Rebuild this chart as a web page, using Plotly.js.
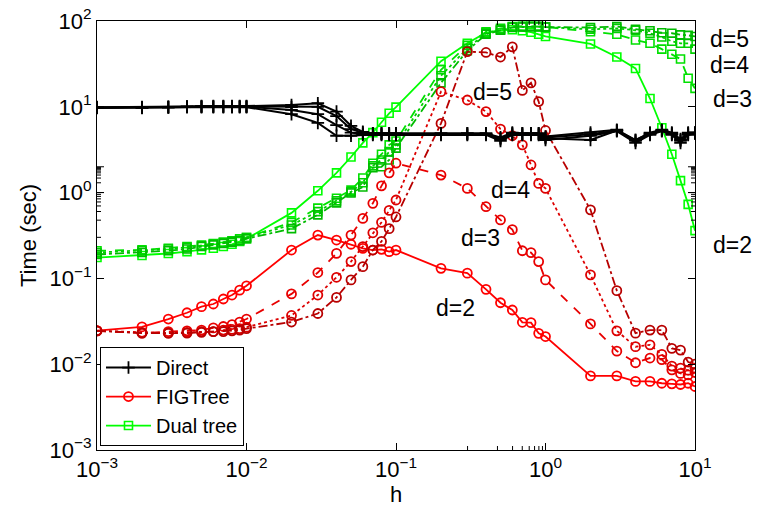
<!DOCTYPE html>
<html>
<head>
<meta charset="utf-8">
<script src="https://cdn.plot.ly/plotly-3.0.1.min.js"></script>
<style>html,body{margin:0;padding:0;background:#fff}#chart{width:762px;height:517px}</style>
</head>
<body>
<div id="chart"></div>
<script>
const hValues = [0.001,0.002,0.003,0.004,0.005,0.006,0.007,0.008,0.009,0.01,
  0.02,0.03,0.04,0.05,0.06,0.07,0.08,0.09,0.1,
  0.2,0.3,0.4,0.5,0.6,0.7,0.8,0.9,1,
  2,3,4,5,6,7,8,9,10];

const directD2 = [9.7,9.7,9.8,9.9,9.9,9.9,9.9,9.9,9.9,9.9, 8.2,6.5,4.6,4.6,4.7,4.7,4.7,4.7,4.7, 4.7,4.7,4.7,4.0,4.7,4.7,4.7,4.7,4.1, 4.6,5.2,3.8,4.7,5.2,4.7,3.8,4.7,4.9];
const directD3 = [9.8,9.8,9.9,10,10,10,10,10,10,10, 9.2,8.2,6.1,5.0,4.8,4.8,4.8,4.8,4.8, 4.8,4.8,4.8,4.2,4.8,4.8,4.8,4.8,4.3, 4.1,5.3,4.0,4.8,5.3,4.8,4.0,4.8,4.9];
const directD4 = [9.8,9.8,9.9,10,10.1,10.1,10.1,10.1,10.1,10.1, 9.9,10,7.8,5.5,5.0,4.9,4.9,4.9,4.9, 4.9,4.9,4.9,4.3,4.9,4.9,4.9,4.9,4.4, 4.8,5.3,4.1,4.9,5.3,4.9,4.1,4.9,5.0];
const directD5 = [9.9,9.9,10,10.1,10.2,10.2,10.2,10.2,10.2,10.2, 10.5,11,8.8,6.0,5.1,4.9,4.9,4.9,4.9, 4.9,4.9,4.9,4.4,5.0,4.9,4.9,4.9,4.5, 5.0,5.4,4.1,5.0,5.4,5.0,4.2,5.0,5.0];

const figD2 = [0.0246,0.0273,0.0336,0.0398,0.0468,0.0503,0.0575,0.064,0.073,0.082, 0.214,0.32,0.28,0.25,0.224,0.214,0.218,0.205,0.214, 0.131,0.115,0.0746,0.052,0.0428,0.0308,0.0305,0.0229,0.021, 0.0073,0.0073,0.0063,0.0063,0.006,0.0059,0.0058,0.006,0.0055];
const figD3 = [0.0245,0.023,0.024,0.0245,0.025,0.0265,0.0275,0.029,0.031,0.0336, 0.066,0.117,0.196,0.32,0.5,0.75,1.2,1.7,2.2, 1.6,1.12,0.685,0.48,0.37,0.21,0.2,0.157,0.096, 0.0295,0.0142,0.0104,0.0118,0.0113,0.0086,0.0078,0.0075,0.008];
const figD4 = [0.0245,0.0235,0.023,0.0235,0.024,0.024,0.025,0.0255,0.026,0.027, 0.037,0.064,0.103,0.157,0.235,0.34,0.45,0.62,0.82, 15,12,8.8,5.5,4.6,3.6,2.1,1.28,1.12, 0.11,0.0245,0.016,0.0168,0.013,0.0095,0.009,0.0085,0.009];
const figD5 = [0.0245,0.023,0.023,0.023,0.0235,0.024,0.024,0.0245,0.025,0.026, 0.031,0.039,0.06,0.096,0.137,0.214,0.27,0.38,0.52, 6.4,44,43,38,50,15.5,19,11.5,5.3, 0.63,0.072,0.023,0.025,0.025,0.0153,0.0146,0.0106,0.0100];

const dualD2 = [0.175,0.185,0.195,0.205,0.215,0.225,0.235,0.25,0.27,0.29, 0.58,1.05,1.7,2.6,3.8,5.0,6.6,8.4,9.9, 34,55,73,78,79,77,74,70,66, 54,38,28,12.5,5.7,2.8,1.38,0.73,0.36];
const dualD3 = [0.21,0.215,0.225,0.235,0.245,0.255,0.265,0.275,0.29,0.3, 0.45,0.66,0.86,1.07,1.48,2.2,2.8,3.6,4.0, 27,52,75,82,86,87,87,86,85, 75,70,60,55,47,41,36,21.5,16.4];
const dualD4 = [0.2,0.21,0.22,0.23,0.24,0.25,0.26,0.27,0.28,0.3, 0.42,0.6,0.8,1.02,1.3,2.05,2.4,3.0,3.6, 23,48,72,80,85,86,86,86,85, 80,82,78,72,65,58,55,55,47];
const dualD5 = [0.19,0.2,0.21,0.22,0.235,0.245,0.255,0.265,0.275,0.29, 0.38,0.55,0.76,0.99,1.16,1.95,2.0,2.4,3.3, 19,45,70,78,84,85,86,86,85, 84,86,80,77,73,72,69,68,66];

const legendNames = ["Direct","FIGTree","Dual tree"];
const dLabels = ["d=2","d=3","d=4","d=5"];
const xTickVals = [0.001,0.01,0.1,1,10];
const xTickLabels = ["10<sup>\u22123</sup>","10<sup>\u22122</sup>","10<sup>\u22121</sup>","10<sup>0</sup>","10<sup>1</sup>"];
const yTickVals = [0.001,0.01,0.1,1,10,100];
const yTickLabels = ["10<sup>\u22123</sup>","10<sup>\u22122</sup>","10<sup>\u22121</sup>","10<sup>0</sup>","10<sup>1</sup>","10<sup>2</sup>"];

const dashes = ["solid","dash","dot","dashdot"];
const redShades = ["#ff0000","#e80000","#dd0000","#b80000"];
const greenShades = ["#00ff00","#00e000","#00d000","#00bb00"];

// tick-mark positions (2..9 within each decade) for the axis frame
function minorTicks(lo, hi){
  const out=[];
  for(let e=lo;e<hi;e++){for(let k=2;k<=9;k++){out.push(k*Math.pow(10,e));}}
  return out;
}

const traces = [];
const dual = [dualD2,dualD3,dualD4,dualD5];
const fig = [figD2,figD3,figD4,figD5];
const direct = [directD2,directD3,directD4,directD5];

dual.forEach((ys,i)=>traces.push({x:hValues,y:ys,type:'scatter',mode:'lines+markers',
  name:legendNames[2],legendgroup:'dual',showlegend:i===0,legendrank:3,
  line:{color:greenShades[i],width:1.8,dash:dashes[i]},
  marker:{symbol:'square-open',size:8,color:greenShades[i],line:{width:1.6,color:greenShades[i]}}}));
fig.forEach((ys,i)=>traces.push({x:hValues,y:ys,type:'scatter',mode:'lines+markers',
  name:legendNames[1],legendgroup:'fig',showlegend:i===0,legendrank:2,
  line:{color:redShades[i],width:1.8,dash:dashes[i]},
  marker:{symbol:'circle-open',size:9,color:redShades[i],line:{width:1.8,color:redShades[i]}}}));
direct.forEach((ys,i)=>traces.push({x:hValues,y:ys,type:'scatter',mode:'lines+markers',
  name:legendNames[0],legendgroup:'direct',showlegend:i===0,legendrank:1,
  line:{color:'#000000',width:2},
  marker:{symbol:'cross-thin',size:9,color:'#000000',line:{width:1.8,color:'#000000'}}}));

const fontFam = 'Liberation Sans, Arial, Helvetica, sans-serif';
const annFont = {family:fontFam,size:23,color:'#000'};
const annotations = [
  {xref:'paper',yref:'paper',x:0.662,y:0.834,text:dLabels[3]},
  {xref:'paper',yref:'paper',x:0.691,y:0.606,text:dLabels[2]},
  {xref:'paper',yref:'paper',x:0.642,y:0.494,text:dLabels[1]},
  {xref:'paper',yref:'paper',x:0.599,y:0.331,text:dLabels[0]},
  {xref:'paper',yref:'paper',x:1.057,y:0.958,text:dLabels[3]},
  {xref:'paper',yref:'paper',x:1.057,y:0.898,text:dLabels[2]},
  {xref:'paper',yref:'paper',x:1.062,y:0.818,text:dLabels[1]},
  {xref:'paper',yref:'paper',x:1.062,y:0.478,text:dLabels[0]}
].map(a=>Object.assign(a,{showarrow:false,font:annFont,xanchor:'center',yanchor:'middle',borderpad:0}));

// axis frame tick marks drawn as short line shapes (inside, on all four sides)
const plotW = 762-97-67, plotH = 517-21-67;
const shapes = [];
function addXTicks(vals,len){
  const f = len/plotH;
  vals.forEach(v=>{
    const lx = Math.log10(v);
    shapes.push({type:'line',xref:'x',yref:'paper',x0:lx,x1:lx,y0:0,y1:f,line:{color:'#000',width:1}});
    shapes.push({type:'line',xref:'x',yref:'paper',x0:lx,x1:lx,y0:1,y1:1-f,line:{color:'#000',width:1}});
  });
}
function addYTicks(vals,len){
  const f = len/plotW;
  vals.forEach(v=>{
    const ly = Math.log10(v);
    shapes.push({type:'line',xref:'paper',yref:'y',y0:ly,y1:ly,x0:0,x1:f,line:{color:'#000',width:1}});
    shapes.push({type:'line',xref:'paper',yref:'y',y0:ly,y1:ly,x0:1,x1:1-f,line:{color:'#000',width:1}});
  });
}
addXTicks(minorTicks(-3,1),4);
addYTicks(minorTicks(-3,2),4);
addXTicks(xTickVals,7);
addYTicks(yTickVals,7);

const axisCommon = {type:'log',tickmode:'array',showline:true,linecolor:'#000',linewidth:1,
  mirror:'allticks',ticks:'inside',ticklen:7,tickcolor:'#000',showgrid:false,zeroline:false,
  tickfont:{family:fontFam,size:22,color:'#000'}};

const layout = {
  width:762,height:517,
  margin:{l:97,r:67,t:21,b:67},
  paper_bgcolor:'#fff',plot_bgcolor:'#fff',
  showlegend:true,
  legend:{x:0.005,y:0.24,xanchor:'left',yanchor:'top',bgcolor:'#fff',bordercolor:'#000',borderwidth:1,
    font:{family:fontFam,size:20,color:'#000'},tracegroupgap:0,traceorder:'normal',itemwidth:45},
  xaxis:Object.assign({},axisCommon,{range:[-3,1],tickvals:xTickVals,ticktext:xTickLabels,
    title:{text:'h',font:{family:fontFam,size:22,color:'#000'},standoff:2}}),
  yaxis:Object.assign({},axisCommon,{range:[-3,2],tickvals:yTickVals,ticktext:yTickLabels,
    title:{text:'Time (sec)',font:{family:fontFam,size:22,color:'#000'},standoff:6}}),
  shapes:shapes,
  annotations:annotations
};

Plotly.newPlot('chart',traces,layout,{displayModeBar:false,staticPlot:true});
</script>
</body>
</html>
